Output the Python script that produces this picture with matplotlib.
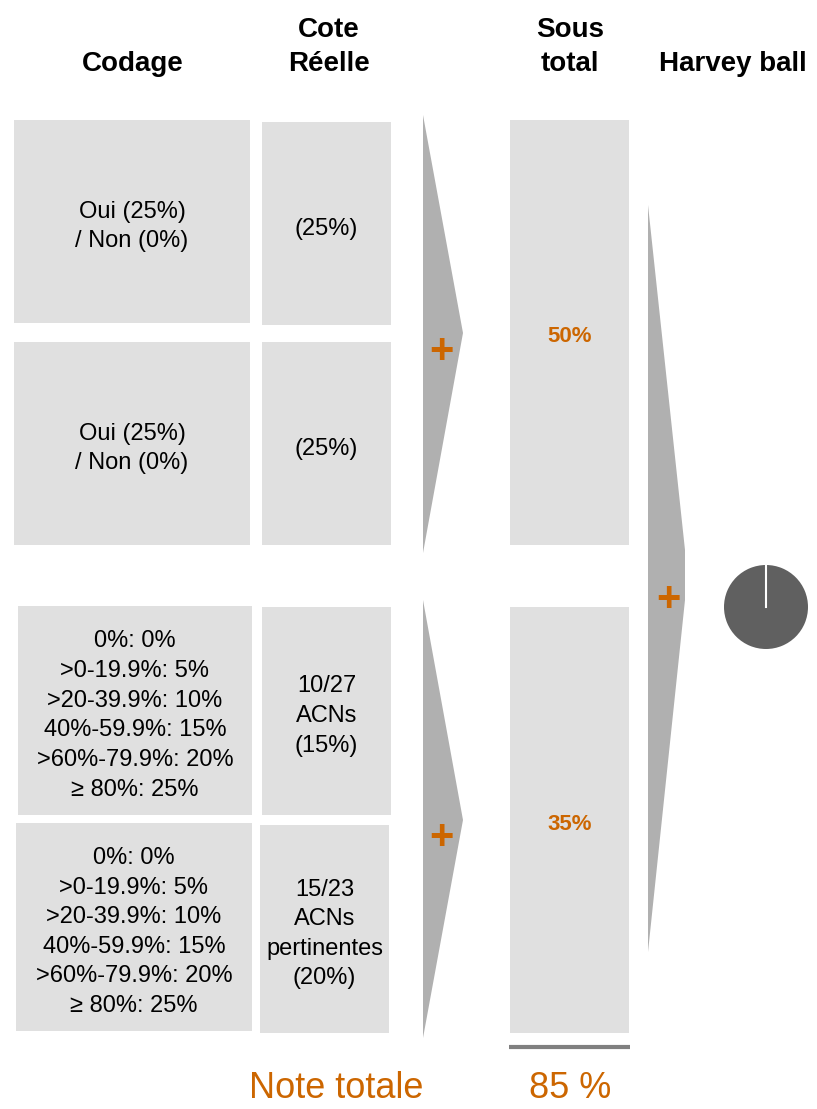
import matplotlib.pyplot as plt
from matplotlib.patches import Rectangle, Polygon, Wedge

plt.rcParams['font.family'] = ['Liberation Sans', 'DejaVu Sans']

# contents
headers = ["Codage", "Cote\nRéelle", "Sous\ntotal", "Harvey ball"]
scale_txt = "0%: 0%\n>0-19.9%: 5%\n>20-39.9%: 10%\n40%-59.9%: 15%\n>60%-79.9%: 20%\n≥ 80%: 25%"
codage = ["Oui (25%)\n/ Non (0%)", "Oui (25%)\n/ Non (0%)", scale_txt, scale_txt]
cote = ["(25%)", "(25%)", "10/27\nACNs\n(15%)", "15/23\nACNs\npertinentes\n(20%)"]
sous_total = [50, 35]
note_totale = 85
harvey_fill = 1.0

orange = '#CC6600'
box_c = '#E0E0E0'
arrow_c = '#B0B0B0'

fig = plt.figure(figsize=(8.17, 11.09), dpi=100)
ax = fig.add_axes([0, 0, 1, 1])
ax.set_xlim(0, 817)
ax.set_ylim(1109, 0)
ax.axis('off')

# header
hx = [133, 329, 570, 733]
hy = [64, 47, 47, 64]
for t, x, y in zip(headers, hx, hy):
    ax.text(x, y, t, ha='center', va='center', fontsize=20, fontweight='bold',
            linespacing=1.4)

# left boxes (codage / cote)
cod_box = [(14, 120, 236, 203), (14, 342, 236, 203), (18, 606, 234, 209), (16, 823, 236, 208)]
cote_box = [(262, 122, 129, 203), (262, 342, 129, 203), (262, 607, 129, 208), (260, 825, 129, 208)]
for (x, y, w, h), t in zip(cod_box, codage):
    ax.add_patch(Rectangle((x, y), w, h, color=box_c, lw=0))
    ax.text(x + w / 2, y + h / 2 + 5, t, ha='center', va='center', fontsize=17, linespacing=1.45)
for (x, y, w, h), t in zip(cote_box, cote):
    ax.add_patch(Rectangle((x, y), w, h, color=box_c, lw=0))
    ax.text(x + w / 2, y + h / 2 + 5, t, ha='center', va='center', fontsize=17, linespacing=1.45)

# arrows with plus signs
arrows = [[(423, 115), (463, 333), (423, 553)],
          [(423, 600), (463, 820), (423, 1038)],
          [(648, 205), (685, 550), (685, 600), (648, 952)]]
plus_pos = [(441, 352), (441, 838), (668, 600)]
for pts, (px, py) in zip(arrows, plus_pos):
    ax.add_patch(Polygon(pts, closed=True, color=arrow_c, lw=0))
    ax.text(px, py, '+', ha='center', va='center', fontsize=30, fontweight='bold', color=orange)

# sub totals
sub_box = [(510, 120, 119, 425), (510, 607, 119, 426)]
for (x, y, w, h), v in zip(sub_box, sous_total):
    ax.add_patch(Rectangle((x, y), w, h, color=box_c, lw=0))
    ax.text(x + w / 2, y + h / 2 + 4, f"{v}%", ha='center', va='center', fontsize=16,
            fontweight='bold', color=orange)

ax.plot([509, 630], [1046.5, 1046.5], color='#808080', lw=3, solid_capstyle='butt')

# harvey ball
cx, cy, r = 766, 607, 42
ax.add_patch(Wedge((cx, cy), r, -90, -90 + 360 * harvey_fill, color='#606060', lw=0))
ax.plot([cx, cx], [cy, cy - r - 1], color='white', lw=1.5)

# totals
ax.text(336, 1089, "Note totale", ha='center', va='center', fontsize=26, color=orange)
ax.text(570, 1089, f"{note_totale} %", ha='center', va='center', fontsize=26, color=orange)

fig.savefig('out.png', dpi=100)
